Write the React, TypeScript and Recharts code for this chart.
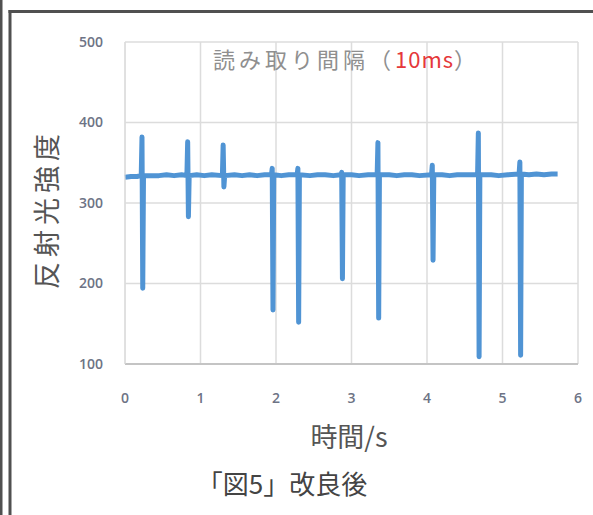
import React from 'react'
import { LineChart, Line, XAxis, YAxis, CartesianGrid } from 'recharts'

// sampled every 10 ms; only the turning points are kept here
const times = [
  0.0, 0.08, 0.16, 0.215, 0.225, 0.235, 0.245, 0.35, 0.45, 0.55, 0.65, 0.75,
  0.82, 0.83, 0.84, 0.85, 0.95, 1.05, 1.15, 1.29, 1.3, 1.31, 1.32, 1.45, 1.55,
  1.65, 1.75, 1.85, 1.94, 1.95, 1.96, 1.97, 2.07, 2.17, 2.28, 2.29, 2.3, 2.31,
  2.45, 2.55, 2.65, 2.76, 2.86, 2.87, 2.88, 2.89, 3.0, 3.1, 3.22, 3.34, 3.35,
  3.36, 3.37, 3.5, 3.6, 3.7, 3.8, 3.9, 4.06, 4.07, 4.08, 4.09, 4.2, 4.3, 4.4,
  4.52, 4.67, 4.68, 4.69, 4.7, 4.85, 4.95, 5.07, 5.22, 5.23, 5.24, 5.25, 5.35,
  5.45, 5.55, 5.65, 5.73,
]
const intensity = [
  332, 333, 333, 334, 382, 194, 334, 334, 334, 335, 334, 335,
  334, 376, 283, 334, 335, 334, 335, 334, 372, 320, 334, 335, 334,
  335, 334, 335, 335, 343, 167, 335, 334, 335, 335, 343, 152, 335,
  334, 335, 335, 334, 335, 338, 206, 335, 335, 334, 335, 335, 375,
  157, 335, 335, 334, 335, 335, 334, 335, 347, 229, 335, 335, 334, 335,
  335, 335, 387, 109, 335, 335, 334, 335, 336, 351, 111, 336, 335,
  336, 335, 336, 336,
]

const xTicks = [0, 1, 2, 3, 4, 5, 6]
const yTicks = [100, 200, 300, 400, 500]

const title = '読み取り間隔（'
const titleInterval = '10ms'
const yTitle = '反射光強度'
const xTitle = '時間/s'
const caption = '「図5」改良後'

const data = times.map((t, i) => ({ t, v: intensity[i] }))

const jp = '"Noto Sans CJK JP", "Noto Sans", sans-serif'
const tickStyle = { fill: '#6d7385', fontSize: 14, fontFamily: '"Open Sans", sans-serif', fontWeight: 600 }

export default function App() {
  return (
    <div style={{ position: 'absolute', left: 0, top: 0, width: 593, height: 515, background: '#fff' }}>
      <LineChart
        width={593}
        height={515}
        data={data}
        margin={{ top: 42, right: 15, bottom: 121, left: 85 }}
      >
        <CartesianGrid stroke="#dcdcdc" strokeWidth={1.5} />
        <XAxis
          dataKey="t"
          type="number"
          domain={[0, 6]}
          ticks={xTicks}
          height={30}
          tickSize={0}
          tickMargin={29}
          axisLine={{ stroke: '#c4c4c4', strokeWidth: 2 }}
          tick={tickStyle}
        />
        <YAxis
          type="number"
          domain={[100, 500]}
          ticks={yTicks}
          width={40}
          tickSize={0}
          tickMargin={22}
          axisLine={{ stroke: '#dcdcdc' }}
          tick={tickStyle}
        />
        <Line
          type="linear"
          dataKey="v"
          stroke="#5094d4"
          strokeWidth={5}
          strokeLinejoin="round"
          dot={false}
          isAnimationActive={false}
        />
      </LineChart>
      <svg
        width={593}
        height={515}
        style={{ position: 'absolute', left: 0, top: 0, pointerEvents: 'none' }}
      >
        <rect x={0} y={0} width={2.5} height={515} fill="#505050" />
        <rect x={8.5} y={10} width={3} height={505} fill="#505050" />
        <rect x={8.5} y={10} width={585} height={3} fill="#505050" />
        <text x={213} y={68} fontSize={22} letterSpacing={4} fill="#8f8f8f" fontFamily={jp}>
          {title}
          <tspan fill="#e5383a" letterSpacing={1}>{titleInterval}</tspan>
          <tspan>）</tspan>
        </text>
        <text
          x={0}
          y={0}
          transform="translate(57 209) rotate(-90)"
          textAnchor="middle"
          fontSize={27}
          letterSpacing={5}
          fill="#555"
          fontFamily={jp}
        >
          {yTitle}
        </text>
        <text x={349} y={447} textAnchor="middle" fontSize={27} fill="#555" fontFamily={jp}>
          {xTitle}
        </text>
        <text x={282} y={494} textAnchor="middle" fontSize={26} fill="#444" fontFamily={jp}>
          {caption}
        </text>
      </svg>
    </div>
  )
}
